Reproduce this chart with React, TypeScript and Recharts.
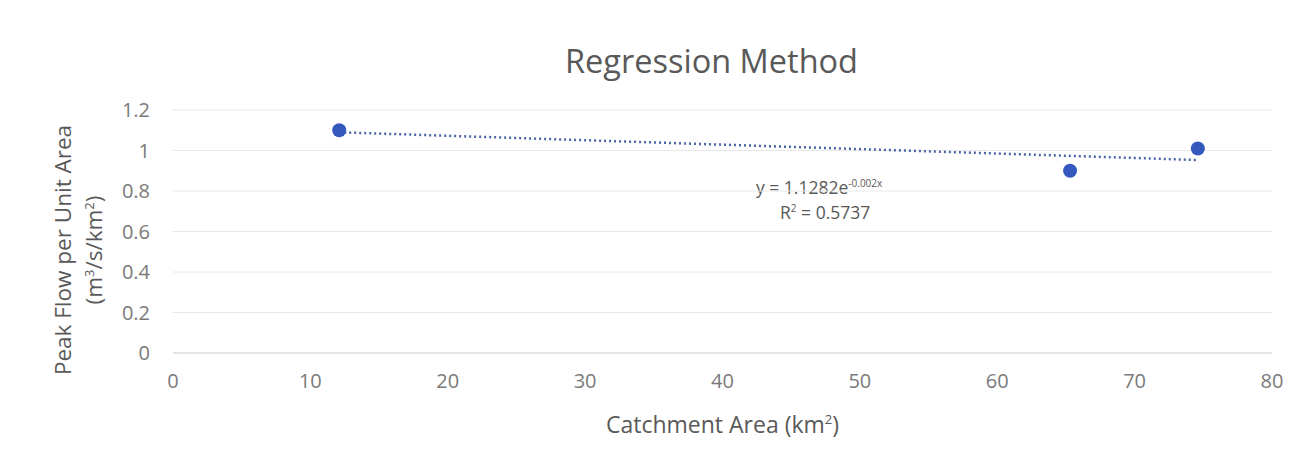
import { ScatterChart, Scatter, XAxis, YAxis, CartesianGrid } from 'recharts';

const AREA_KM2 = [12.1, 65.3, 74.6];
const PEAK_FLOW = [1.1, 0.9, 1.01];

// trendline endpoints
const TREND_X = [12.1, 74.6];
const TREND_Y = [1.09, 0.953];

const X_TICKS = [0, 10, 20, 30, 40, 50, 60, 70, 80];
const Y_TICKS = [0, 0.2, 0.4, 0.6, 0.8, 1, 1.2];

const points = AREA_KM2.map((x, i) => ({ x, y: PEAK_FLOW[i] }));
const trend = TREND_X.map((x, i) => ({ x, y: TREND_Y[i] }));

const FONT = '"Open Sans", sans-serif';
const GREY = '#595959';
const TICK_GREY = '#7a7a7a';
const DOT_BLUE = '#3558bf';
const TREND_BLUE = '#4a65a8';

export default function App() {
  return (
    <div style={{ position: 'absolute', left: 0, top: 0, width: 1306, height: 456, background: '#fff', fontFamily: FONT }}>
      <div style={{ position: 'absolute', left: 0, width: 1423, top: 38, textAlign: 'center', fontSize: 32.5, color: GREY, lineHeight: '46px' }}>
        Regression Method
      </div>
      <div
        style={{
          position: 'absolute', left: 78, top: 219, width: 340, marginLeft: -170,
          transform: 'rotate(-90deg)', textAlign: 'center', fontSize: 22.5, color: GREY, lineHeight: '31px',
        }}
      >
        Peak Flow per Unit Area
        <br />
        (m<sup style={{ fontSize: 13, lineHeight: 0 }}>3</sup>/s/km<sup style={{ fontSize: 13, lineHeight: 0 }}>2</sup>)
      </div>
      <div style={{ position: 'absolute', left: 756, top: 175, fontSize: 17.5, color: GREY, lineHeight: '24px' }}>
        y = 1.1282e<sup style={{ fontSize: 10, lineHeight: 0 }}>-0.002x</sup>
      </div>
      <div style={{ position: 'absolute', left: 780, top: 200, fontSize: 17.5, color: GREY, lineHeight: '24px' }}>
        R<sup style={{ fontSize: 10, lineHeight: 0 }}>2</sup> = 0.5737
      </div>
      <div style={{ position: 'absolute', left: 0, width: 1445, top: 408, textAlign: 'center', fontSize: 23, color: GREY, lineHeight: '32px' }}>
        Catchment Area (km<sup style={{ fontSize: 13, lineHeight: 0 }}>2</sup>)
      </div>
      <ScatterChart width={1306} height={456} margin={{ top: 110, right: 34, bottom: 0, left: 113 }}>
        <CartesianGrid vertical={false} stroke="#e8e8e8" />
        <XAxis
          type="number"
          dataKey="x"
          domain={[0, 80]}
          ticks={X_TICKS}
          tickLine={false}
          axisLine={{ stroke: '#d6d6d6' }}
          tickMargin={15}
          height={103}
          tick={{ fill: TICK_GREY, fontSize: 20, fontFamily: FONT }}
        />
        <YAxis
          type="number"
          dataKey="y"
          domain={[0, 1.2]}
          ticks={Y_TICKS}
          tickLine={false}
          axisLine={false}
          width={60}
          tickMargin={17}
          tick={{ fill: TICK_GREY, fontSize: 20, fontFamily: FONT }}
        />
        <Scatter
          data={trend}
          line={{ stroke: TREND_BLUE, strokeWidth: 2.5, strokeDasharray: '2 3' }}
          shape={() => <g />}
          isAnimationActive={false}
        />
        <Scatter data={points} fill={DOT_BLUE} isAnimationActive={false} shape={(p: any) => <circle cx={p.cx} cy={p.cy} r={7} fill={DOT_BLUE} />} />
      </ScatterChart>
    </div>
  );
}
